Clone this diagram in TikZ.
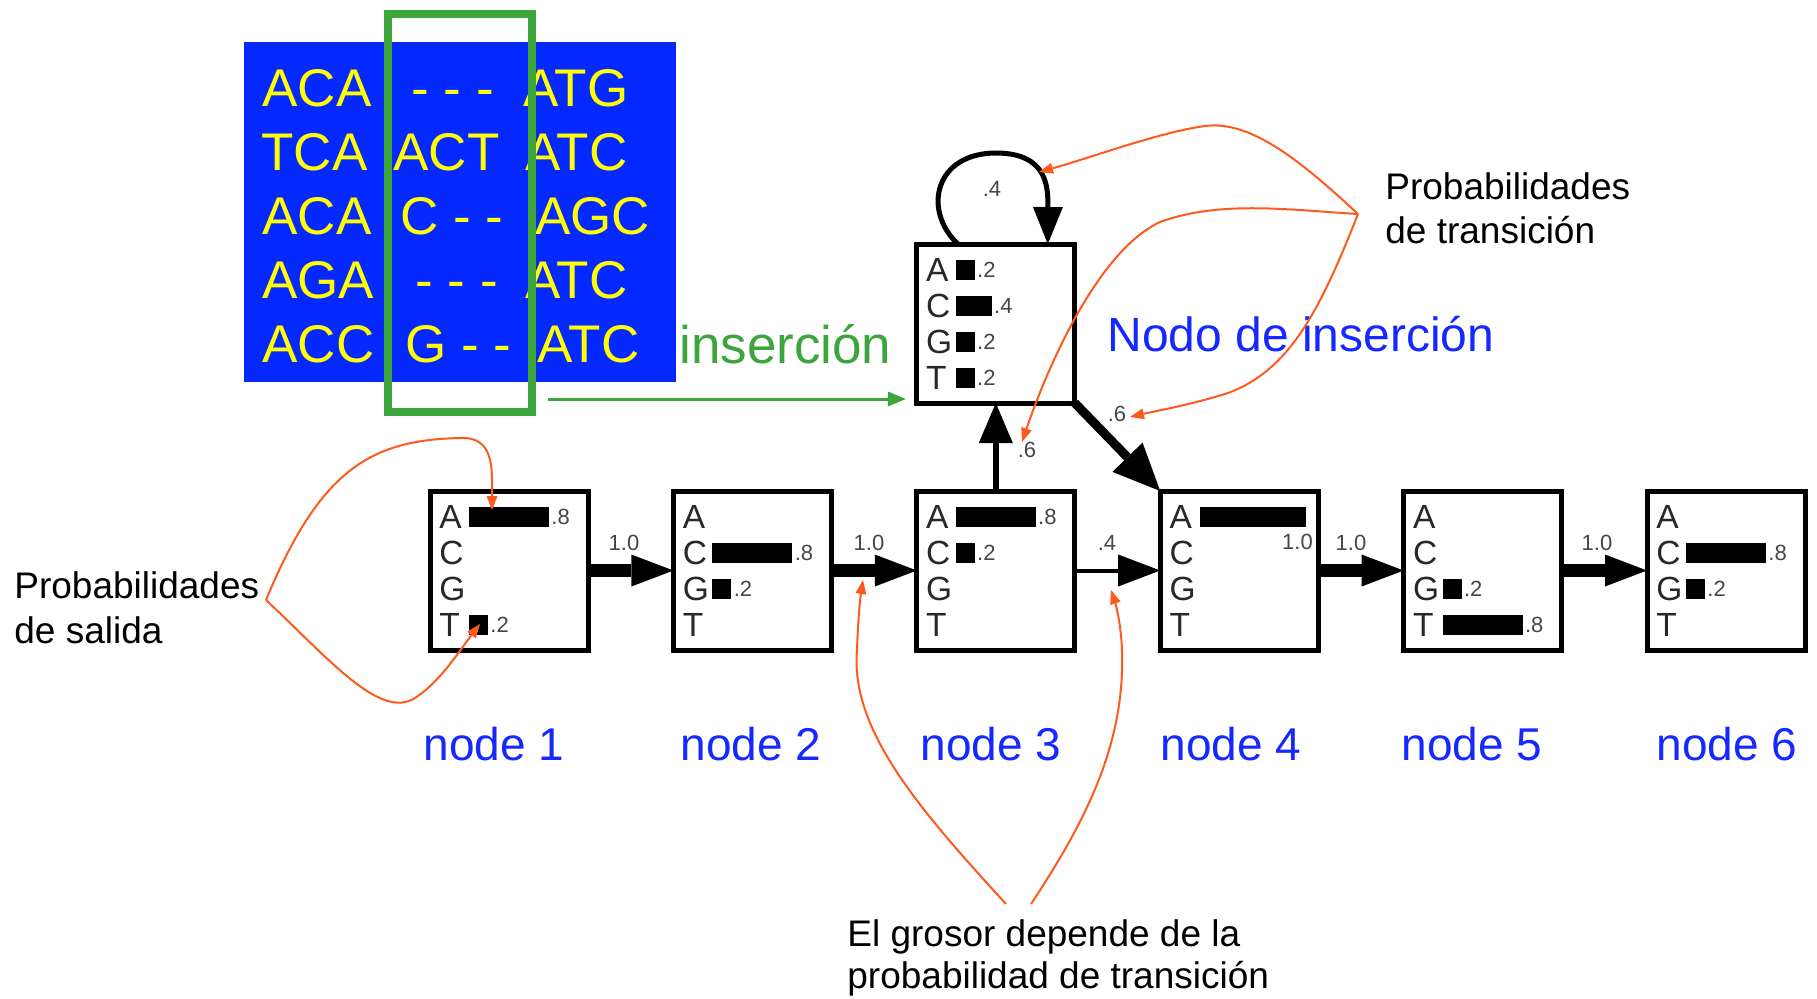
\documentclass[tikz,border=0pt]{standalone}
\usepackage{fontspec}
\setmainfont{Liberation Sans}
\usetikzlibrary{arrows.meta,calc}

\definecolor{alnblue}{RGB}{5,40,255}
\definecolor{alnyellow}{RGB}{255,255,0}
\definecolor{selgreen}{RGB}{60,165,60}
\definecolor{noteorange}{RGB}{255,90,30}
\definecolor{labblue}{RGB}{20,40,255}
\definecolor{ink}{RGB}{40,40,40}
\definecolor{numgray}{RGB}{70,70,70}

\newcommand\fsz[1]{\fontsize{#1pt}{#1pt}\selectfont}
% one emission row of a profile box: letter, and optional bar with its value
\newcommand\lett[3]{\node[sym] (#1) at (9,#2) {#3};}
\newcommand\pbar[4]{\fill[black] (39,#2-1) rectangle (39+#3,#2-21);
  \node[num] (#1) at (41+#3,#2-4) {#4};}

\begin{document}
\begin{tikzpicture}[x=0.5pt,y=-0.5pt,
  state/.style={draw=black, fill=white, line width=2.5pt, minimum width=79pt,
    minimum height=79.5pt, inner sep=0pt, outer sep=0pt},
  sym/.style={anchor=base west, inner sep=0pt, font=\fsz{16.75}, text=ink},
  num/.style={anchor=base west, inner sep=0pt, font=\fsz{11}, text=numgray},
  aln/.style={anchor=base west, inner sep=0pt, font=\fsz{26.5}, text=alnyellow},
  nodelab/.style={anchor=base, inner sep=0pt, font=\fsz{23}, text=labblue},
  note/.style={anchor=base west, inner sep=0pt, font=\fsz{18.5}, text=black},
  hop/.style={line width=#1, -{Triangle[length=21pt,width=16pt,line width=0pt]}},
  callout/.style={draw=noteorange, line width=1pt,
    -{Triangle[length=7pt,width=5.5pt,line width=0pt]}, fill=none}]
\useasboundingbox (0,0) rectangle (1817,998);

% multiple alignment
\fill[alnblue] (244,42) rectangle (676,382);
\node[aln] (r1a) at (262,106) {ACA};
\node[aln] (r1b) at (411,106) {- - -};
\node[aln] (r1c) at (523,106) {ATG};
\node[aln] (r2a) at (261,170) {TCA};
\node[aln] (r2b) at (393,170) {ACT};
\node[aln] (r2c) at (525,170) {ATC};
\node[aln] (r3a) at (262,234) {ACA};
\node[aln] (r3b) at (400,234) {C - -};
\node[aln] (r3c) at (535,234) {AGC};
\node[aln] (r4a) at (262,298) {AGA};
\node[aln] (r4b) at (415,298) {- - -};
\node[aln] (r4c) at (525,298) {ATC};
\node[aln] (r5a) at (262,362) {ACC};
\node[aln] (r5b) at (405,362) {G - -};
\node[aln] (r5c) at (537,362) {ATC};
\node[draw=selgreen, line width=4pt, minimum width=71.75pt, minimum height=199.25pt,
  inner sep=0pt] (sel) at (459.75,212.75) {};
\node[anchor=base west, inner sep=0pt, font=\fsz{26.5}, text=selgreen] (inslab) at (679,363) {inserción};

% match states and the insert state
\node[state] (n1) at (509,570.5) {};
\node[state] (n2) at (752.4,570.5) {};
\node[state] (n3) at (995.8,570.5) {};
\node[state] (n4) at (1239.2,570.5) {};
\node[state] (n5) at (1482.6,570.5) {};
\node[state] (n6) at (1726,570.5) {};
\node[state] (ins) at (995.8,323.5) {};

\begin{scope}[shift={(n1.north west)}]
  \lett{n1A}{37}{A}\lett{n1C}{73}{C}\lett{n1G}{109}{G}\lett{n1T}{145}{T}
  \pbar{n1a}{37}{80}{.8}\pbar{n1t}{145}{19}{.2}
\end{scope}
\begin{scope}[shift={(n2.north west)}]
  \lett{n2A}{37}{A}\lett{n2C}{73}{C}\lett{n2G}{109}{G}\lett{n2T}{145}{T}
  \pbar{n2c}{73}{80}{.8}\pbar{n2g}{109}{19}{.2}
\end{scope}
\begin{scope}[shift={(n3.north west)}]
  \lett{n3A}{37}{A}\lett{n3C}{73}{C}\lett{n3G}{109}{G}\lett{n3T}{145}{T}
  \pbar{n3a}{37}{80}{.8}\pbar{n3c}{73}{19}{.2}
\end{scope}
\begin{scope}[shift={(n4.north west)}]
  \lett{n4A}{37}{A}\lett{n4C}{73}{C}\lett{n4G}{109}{G}\lett{n4T}{145}{T}
  \fill[black] (40,36) rectangle (146,16);
  \node[num, anchor=base east] (n4a) at (153,58) {1.0};
\end{scope}
\begin{scope}[shift={(n5.north west)}]
  \lett{n5A}{37}{A}\lett{n5C}{73}{C}\lett{n5G}{109}{G}\lett{n5T}{145}{T}
  \pbar{n5g}{109}{19}{.2}\pbar{n5t}{145}{80}{.8}
\end{scope}
\begin{scope}[shift={(n6.north west)}]
  \lett{n6A}{37}{A}\lett{n6C}{73}{C}\lett{n6G}{109}{G}\lett{n6T}{145}{T}
  \pbar{n6c}{73}{80}{.8}\pbar{n6g}{109}{19}{.2}
\end{scope}
\begin{scope}[shift={(ins.north west)}]
  \lett{iA}{37}{A}\lett{iC}{73}{C}\lett{iG}{109}{G}\lett{iT}{145}{T}
  \pbar{ia}{37}{19}{.2}\pbar{ic}{73}{36}{.4}\pbar{ig}{109}{19}{.2}\pbar{it}{145}{19}{.2}
\end{scope}

% transitions
\draw[hop=6.5pt] (n1.east) -- (n2.west);
\draw[hop=6.5pt] (n2.east) -- (n3.west);
\draw[hop=2pt]   (n3.east) -- (n4.west);
\draw[hop=6.5pt] (n4.east) -- (n5.west);
\draw[hop=6.5pt] (n5.east) -- (n6.west);
\node[num, anchor=base] (t12) at (624,550) {1.0};
\node[num, anchor=base] (t23) at (869,550) {1.0};
\node[num, anchor=base] (t34) at (1107,550) {.4};
\node[num, anchor=base] (t45) at (1351,550) {1.0};
\node[num, anchor=base] (t56) at (1597,550) {1.0};

\draw[line width=3pt, -{Triangle[length=20pt,width=17pt,line width=0pt]}] (n3.north) -- (ins.south);
\draw[line width=4.5pt, -{Triangle[length=23.5pt,width=21pt,line width=0pt]}] (ins.south east) -- (n4.north west);
\coordinate (la) at ($(ins.north)+(-38,0)$);
\coordinate (lb) at ($(ins.north)+(52,0)$);
\draw[line width=2.5pt, -{Triangle[length=18.5pt,width=15pt,line width=0pt]}]
  (la) .. controls (922,210) and (935,153) .. (996,153)
       .. controls (1048,153) and (1048,188) .. (lb);
\node[num, anchor=center] (ploop) at (992,189) {.4};
\node[num, anchor=center] (pup) at (1027,450) {.6};
\node[num, anchor=center] (pdiag) at (1117,414) {.6};

% insertion column feeds the insert state
\coordinate (gs) at (548,399);
\draw[selgreen, line width=1.5pt, -{Triangle[length=9pt,width=7.5pt,line width=0pt]}]
  (gs) -- ($(ins.west |- gs)+(-11,0)$);

% labels
\node[anchor=base west, inner sep=0pt, font=\fsz{24}, text=labblue] (nodoins) at (1107,351) {Nodo de inserción};
\node[nodelab] (l1) at (494,760) {node 1};
\node[nodelab] (l2) at (751,760) {node 2};
\node[nodelab] (l3) at (991,760) {node 3};
\node[nodelab] (l4) at (1231,760) {node 4};
\node[nodelab] (l5) at (1472,760) {node 5};
\node[nodelab] (l6) at (1727,760) {node 6};

\node[note] (ps1) at (14,598) {Probabilidades};
\node[note] (ps2) at (14,643) {de salida};
\node[note] (pt1) at (1385,199) {Probabilidades};
\node[note] (pt2) at (1385,243) {de transición};
\node[note] (pg1) at (847,946) {El grosor depende de la};
\node[note] (pg2) at (847,988) {probabilidad de transición};

% callouts
\coordinate (cs) at (266,600);
\coordinate (ct) at (1358,214);
\coordinate (cb1) at (1006,904);
\coordinate (cb2) at (1031,904);
\draw[callout] (cs) .. controls (320,470) and (370,440) .. (460,438)
  .. controls (495,436) and (492,470) .. (492,510);
\draw[callout] (cs) .. controls (330,660) and (380,720) .. (415,698)
  .. controls (440,682) and (460,650) .. (480,624);
\draw[callout] (ct) .. controls (1300,160) and (1250,120) .. (1205,126)
  .. controls (1160,132) and (1090,158) .. (1039,172);
\draw[callout] (ct) .. controls (1290,210) and (1220,200) .. (1160,222)
  .. controls (1100,250) and (1050,360) .. (1022,442);
\draw[callout] (ct) .. controls (1320,310) and (1290,370) .. (1228,393)
  .. controls (1190,405) and (1160,410) .. (1130,417);
\draw[callout] (cb1) .. controls (920,810) and (850,730) .. (857,650)
  .. controls (858,620) and (860,600) .. (863,580);
\draw[callout] (cb2) .. controls (1090,815) and (1125,740) .. (1122,650)
  .. controls (1121,625) and (1116,605) .. (1111,590);
\end{tikzpicture}
\end{document}
